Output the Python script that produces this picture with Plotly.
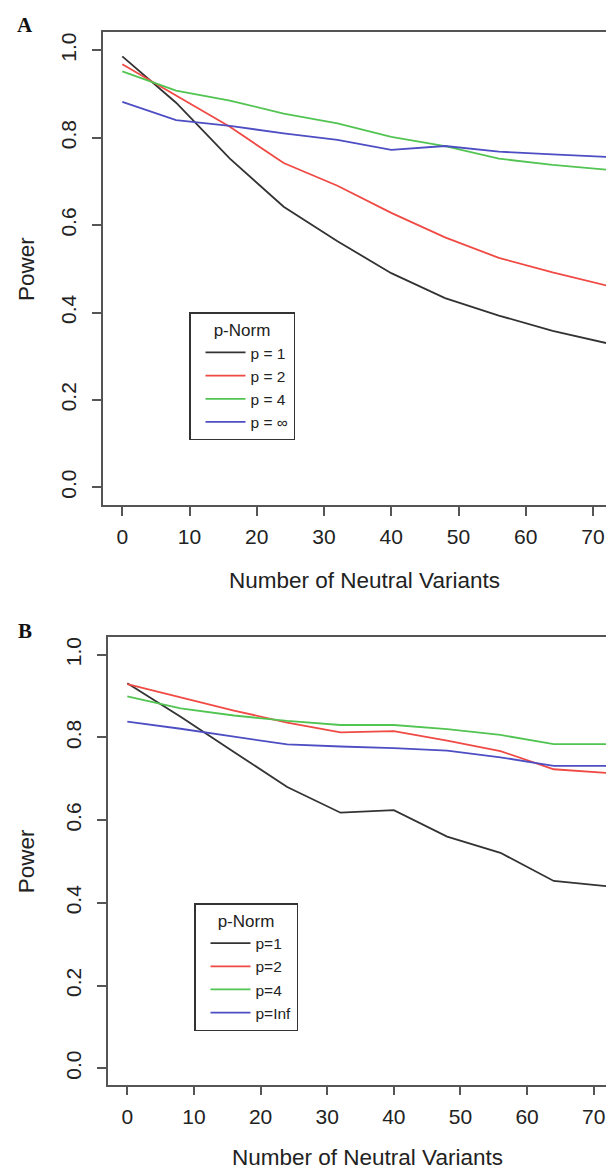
import plotly.graph_objects as go

# ---------------- data ----------------
neutral_variants = [0, 8, 16, 24, 32, 40, 48, 56, 64, 72]

# Panel A
a_p1 = [0.986, 0.880, 0.752, 0.642, 0.563, 0.490, 0.433, 0.393, 0.358, 0.330]
a_p2 = [0.968, 0.897, 0.825, 0.742, 0.690, 0.628, 0.572, 0.525, 0.492, 0.462]
a_p4 = [0.952, 0.908, 0.885, 0.855, 0.833, 0.802, 0.781, 0.752, 0.738, 0.727]
a_pinf = [0.882, 0.840, 0.827, 0.810, 0.795, 0.772, 0.781, 0.768, 0.762, 0.756]

# Panel B
b_p1 = [0.931, 0.850, 0.765, 0.680, 0.618, 0.624, 0.560, 0.521, 0.453, 0.440]
b_p2 = [0.929, 0.897, 0.865, 0.836, 0.812, 0.815, 0.792, 0.767, 0.723, 0.714]
b_p4 = [0.899, 0.870, 0.853, 0.840, 0.830, 0.830, 0.820, 0.806, 0.784, 0.784]
b_pinf = [0.838, 0.821, 0.802, 0.783, 0.778, 0.774, 0.768, 0.752, 0.731, 0.731]

names_a = ["p = 1", "p = 2", "p = 4", "p = \u221e"]
names_b = ["p=1", "p=2", "p=4", "p=Inf"]
x_ticks = [0, 10, 20, 30, 40, 50, 60, 70]
y_ticks = [0.0, 0.2, 0.4, 0.6, 0.8, 1.0]
y_ticktext = ["0.0", "0.2", "0.4", "0.6", "0.8", "1.0"]
legend_title = "p-Norm"
x_title = "Number of Neutral Variants"
y_title = "Power"
panel_letters = ["A", "B"]

# ---------------- style ----------------
colors = ["#333333", "#f04a45", "#52c452", "#4e4ec4"]
W, H = 614, 1168
FONT = "Liberation Sans, Arial, sans-serif"
AX = "#555555"

fig = go.Figure()
for ys, nm, c in zip([a_p1, a_p2, a_p4, a_pinf], names_a, colors):
    fig.add_trace(go.Scatter(x=neutral_variants, y=ys, mode="lines", name=nm,
                             line=dict(color=c, width=1.8),
                             xaxis="x", yaxis="y", legend="legend"))
for ys, nm, c in zip([b_p1, b_p2, b_p4, b_pinf], names_b, colors):
    fig.add_trace(go.Scatter(x=neutral_variants, y=ys, mode="lines", name=nm,
                             line=dict(color=c, width=1.8),
                             xaxis="x2", yaxis="y2", legend="legend2"))


def px_x(px):
    return px / W


def px_y(px):
    return 1 - px / H


common_x = dict(tickvals=x_ticks, ticks="outside", ticklen=9, tickwidth=1.5,
                tickcolor=AX, showline=True, linecolor=AX, linewidth=1.5,
                mirror=True, showgrid=False, zeroline=False,
                tickfont=dict(size=21, color="#222", family=FONT),
                ticklabelstandoff=3)
common_y = dict(tickvals=y_ticks, ticktext=y_ticktext, ticks="outside", ticklen=9,
                tickwidth=1.5, tickcolor=AX, showline=True, linecolor=AX,
                linewidth=1.5, mirror=False, showgrid=False, zeroline=False,
                tickangle=-90,
                tickfont=dict(size=21, color="#222", family=FONT),
                ticklabelstandoff=8)

legend_common = dict(xanchor="left", yanchor="top", bgcolor="white",
                     bordercolor="#333", borderwidth=1.5,
                     font=dict(size=15.5, color="#222", family=FONT),
                     title=dict(text=legend_title, side="top center",
                                font=dict(size=17, color="#222", family=FONT)),
                     tracegroupgap=0, itemclick=False,
                     itemwidth=40, indentation=10)

fig.update_layout(
    width=W, height=H,
    margin=dict(l=0, r=0, t=0, b=0),
    paper_bgcolor="white", plot_bgcolor="white",
    font=dict(family=FONT, color="#222"),
    xaxis=dict(domain=[px_x(95), 1.0], range=[-2.870, 74.316], anchor="y", **common_x),
    yaxis=dict(domain=[px_y(497.3), px_y(24.3)], range=[-0.0412, 1.0412], anchor="x", **common_y),
    xaxis2=dict(domain=[px_x(100), 1.0], range=[-2.897, 74.246], anchor="y2", **common_x),
    yaxis2=dict(domain=[px_y(1076.7), px_y(629.3)], range=[-0.0397, 1.0421], anchor="x2", **common_y),
    legend=dict(x=px_x(181), y=px_y(304.3), **legend_common),
    legend2=dict(x=px_x(186), y=px_y(895), **legend_common),
    showlegend=True,
)

# axis titles (placed as in the original R layout, centred on the full plot region)
title_font = dict(family=FONT, size=22.5, color="#222")
for (xc, yc) in [(356.4, 572.0), (359.1, 1149.0)]:
    fig.add_annotation(text=x_title, x=px_x(xc), y=px_y(yc), xref="paper", yref="paper",
                       xanchor="center", yanchor="middle", showarrow=False,
                       font=title_font)
for (xc, yc) in [(18.3, 260.8), (18.3, 853.0)]:
    fig.add_annotation(text=y_title, x=px_x(xc), y=px_y(yc), xref="paper", yref="paper",
                       xanchor="center", yanchor="middle", showarrow=False,
                       textangle=-90, font=title_font)

for letter, yc in zip(panel_letters, [16.5, 622.5]):
    fig.add_annotation(text="<b>%s</b>" % letter, x=px_x(17), y=px_y(yc),
                       xref="paper", yref="paper", xanchor="center", yanchor="middle",
                       showarrow=False,
                       font=dict(family="Liberation Serif, Times New Roman, serif",
                                 size=21, color="#111"))

fig.write_html("out.html")
